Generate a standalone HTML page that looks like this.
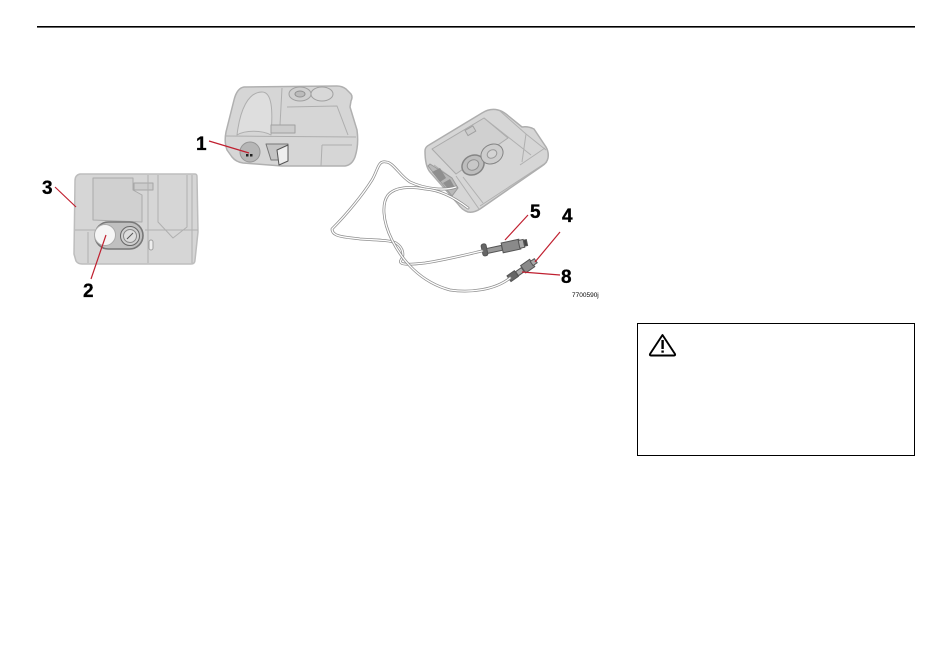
<!DOCTYPE html>
<html>
<head>
<meta charset="utf-8">
<style>
html,body{margin:0;padding:0;background:#fff}
svg{display:block}
text{font-family:"Liberation Sans",sans-serif;font-weight:bold;font-size:19px;fill:#000;stroke:#000;stroke-width:.3px}
</style>
</head>
<body>
<svg width="950" height="666" viewBox="0 0 950 666" xmlns="http://www.w3.org/2000/svg">
<defs><filter id="b" x="-5%" y="-5%" width="110%" height="110%"><feGaussianBlur stdDeviation="0.3"/></filter></defs>
<!-- header rule -->
<rect x="37" y="26" width="878" height="1.6" fill="#000"/>

<g filter="url(#b)">
<!-- compressor top -->
<g stroke-linejoin="round">
<path d="M244 87 L337 86 Q342 86 346 89 L351 94 Q353 97 351 101 L350 107 L357 130 Q359 145 355 157 Q352 165 345 166 L282 166 L243 163 Q236 162 232 157 L227 150 Q224 142 226 132 L234 100 Q237 88 244 87 Z" fill="#d6d6d6" stroke="#b0b0b0" stroke-width="1.5"/>
<path d="M237 135 C240 110 248 92 262 92 C272 92 273 110 271 135 C262 130 245 130 237 135 Z" fill="#dedede" stroke="#aeaeae"/>
<path d="M226 136 L356 137 M282 88 L280 125 M287 107 L337 106 L348 135" fill="none" stroke="#aeaeae"/>
<ellipse cx="300" cy="94" rx="11" ry="7" fill="#cfcfcf" stroke="#a0a0a0"/>
<ellipse cx="300" cy="94" rx="5" ry="3" fill="#bbb" stroke="#909090"/>
<ellipse cx="322" cy="94" rx="11" ry="7" fill="#d8d8d8" stroke="#a0a0a0"/>
<rect x="271" y="125" width="24" height="8" fill="#ccc" stroke="#a0a0a0"/>
<path d="M322 145 L352 145 M322 145 L321 166" fill="none" stroke="#aeaeae"/>
<circle cx="250" cy="152" r="10" fill="#b6b6b6" stroke="#959595"/>
<rect x="246" y="154" width="2.5" height="2.5" fill="#222"/><rect x="250" y="154" width="2.5" height="2.5" fill="#222"/>
<path d="M266 144 L288 144 L287 160 L271 160 Z" fill="#c4c4c4" stroke="#777"/>
<path d="M277 150 L288 145 L288 161 L279 165 Z" fill="#eee" stroke="#555"/>
</g>

<!-- compressor left -->
<g stroke-linejoin="round">
<path d="M80 174 L195 174 Q197 174 197 177 L198 232 L195 260 Q195 264 191 264 L82 264 Q78 264 76 261 L74 254 L75 181 Q75 175 80 174 Z" fill="#d6d6d6" stroke="#bdbdbd" stroke-width="1.5"/>
<path d="M93 178 L133 178 L133 190 L142 195 L142 222 L93 220 Z" fill="#d0d0d0" stroke="#aaa"/>
<rect x="134" y="183" width="19" height="7" fill="#ccc" stroke="#a5a5a5"/>
<path d="M148 175 L148 263 M158 175 L158 222 L173 238 L187 227 L187 175 M75 230 L95 230 M145 230 L198 230 M88 232 L88 263 M192 175 L192 263" fill="none" stroke="#b0b0b0"/>
<rect x="95" y="222" width="48" height="27" rx="13.5" fill="#c0c0c0" stroke="#777" stroke-width="1.6"/>
<circle cx="105" cy="235" r="10.500" fill="#f5f5f5" stroke="#aaa"/>
<circle cx="130" cy="236" r="9.500" fill="#d0d0d0" stroke="#666"/>
<circle cx="130" cy="236" r="6.500" fill="#ddd" stroke="#888"/>
<path d="M127 239 L133 233" stroke="#555"/>
<rect x="149" y="240" width="4" height="10" rx="2" fill="#eee" stroke="#a0a0a0"/>
</g>

<!-- compressor right -->
<g stroke-linejoin="round">
<path d="M425 151 Q425 147 429 145 L482 113 Q490 108 498 110 Q502 111 506 114 L522 127 Q528 126 534 129 L546 147 Q549 152 548 158 Q547 163 542 166 L480 209 Q474 213 468 212 Q462 210 458 204 L430 172 Q425 166 425 151 Z" fill="#d6d6d6" stroke="#aeaeae" stroke-width="1.5"/>
<path d="M432 149 L484 118 L508 138 L456 174 Z" fill="#d0d0d0" stroke="#aaa"/>
<path d="M500 111 L526 134 L522 162 M526 134 L546 150 M484 118 L531 155 M456 176 L479 209 M463 177 L483 203 M480 206 L547 162 M452 178 L434 165 M520 165 L545 148" fill="none" stroke="#b0b0b0"/>
<rect x="466" y="128" width="9" height="6" transform="rotate(-30 470 131)" fill="#ccc" stroke="#a0a0a0"/>
<ellipse cx="473" cy="165" rx="11.500" ry="9.500" transform="rotate(-30 473 165)" fill="#bdbdbd" stroke="#858585" stroke-width="1.5"/>
<ellipse cx="473" cy="165" rx="6" ry="5" transform="rotate(-30 473 165)" fill="#c8c8c8" stroke="#909090"/>
<ellipse cx="492" cy="154" rx="11.500" ry="9.500" transform="rotate(-30 492 154)" fill="#cdcdcd" stroke="#858585"/>
<ellipse cx="492" cy="154" rx="5" ry="4" transform="rotate(-30 492 154)" fill="#d4d4d4" stroke="#999"/>
<path d="M428 166 L452 196 L458 188 L452 178 L430 164 Z" fill="#b8b8b8" stroke="#999"/>
<path d="M432 172 L440 168 L446 178 L440 182 Z M443 183 L450 179 L454 186 L449 190 Z" fill="#8f8f8f"/>
</g>

<!-- connector 5 -->
<g stroke="#555" stroke-width="1">
<rect x="482" y="244" width="5" height="12" rx="2" transform="rotate(-12 484 250)" fill="#666"/>
<rect x="487" y="247" width="15" height="5" transform="rotate(-12 494 249)" fill="#999"/>
<rect x="502" y="241" width="18" height="10" transform="rotate(-12 511 246)" fill="#8a8a8a"/>
<rect x="519" y="240" width="5" height="8" transform="rotate(-12 521 244)" fill="#aaa"/>
<rect x="524" y="240" width="3" height="6" transform="rotate(-12 525 243)" fill="#444"/>
</g>
<!-- connector 4/8 -->
<g stroke="#555" stroke-width="1">
<rect x="508" y="273" width="9" height="7" transform="rotate(-35 512 276)" fill="#666"/>
<rect x="516" y="269" width="7" height="5" transform="rotate(-35 520 271)" fill="#aaa"/>
<rect x="522" y="262" width="11" height="9" transform="rotate(-35 527 266)" fill="#8a8a8a"/>
<rect x="531" y="260" width="5" height="5" transform="rotate(-35 533 262)" fill="#aaa"/>
</g>
</g>

<!-- cables -->
<g fill="none" stroke-linecap="round" stroke-linejoin="round">
<path d="M456 187 C445 191 425 189 410 182 C400 176 393 162 386 162 C378 160 378 170 372 180 C362 196 345 216 332 229 C332 237 345 237 360 239 C375 240 390 240 396 243 C404 248 404 256 401 260 C398 265 408 265 425 263 C445 260 465 255 482 251" stroke="#8e8e8e" stroke-width="2.8"/>
<path d="M456 187 C445 191 425 189 410 182 C400 176 393 162 386 162 C378 160 378 170 372 180 C362 196 345 216 332 229 C332 237 345 237 360 239 C375 240 390 240 396 243 C404 248 404 256 401 260 C398 265 408 265 425 263 C445 260 465 255 482 251" stroke="#fff" stroke-width="1.300"/>
<path d="M468 208 C455 198 440 190 425 189 C410 186 395 187 388 195 C382 203 382 220 392 240 C402 260 420 282 450 290 C470 293 495 290 510 278" stroke="#8e8e8e" stroke-width="2.8"/>
<path d="M468 208 C455 198 440 190 425 189 C410 186 395 187 388 195 C382 203 382 220 392 240 C402 260 420 282 450 290 C470 293 495 290 510 278" stroke="#fff" stroke-width="1.300"/>
</g>

<!-- leaders -->
<g stroke="#c02030" stroke-width="1.200" fill="none">
<path d="M209 141 L249 153"/>
<path d="M55 187 L76 207"/>
<path d="M91 279 L106 235"/>
<path d="M528 215 L505 240"/>
<path d="M560 232 L535 262"/>
<path d="M560 275 L522 272"/>
</g>

<!-- labels -->
<text x="196" y="150">1</text>
<text x="42" y="194">3</text>
<text x="83" y="297">2</text>
<text x="530" y="218">5</text>
<text x="562" y="222">4</text>
<text x="561" y="283">8</text>
<text x="572" y="297" style="font-size:6.5px;font-weight:normal;stroke:none">7700590j</text>

<!-- warning box -->
<rect x="637.5" y="323.5" width="277" height="132" fill="none" stroke="#000" stroke-width="1"/>
<path d="M662.5 335 L675 354 Q675.500 355.500 674 355.500 L651 355.500 Q649.500 355.500 650 354 Z" fill="none" stroke="#000" stroke-width="1.9" stroke-linejoin="round"/>
<rect x="661.400" y="340" width="2.400" height="9" fill="#000"/>
<rect x="661.400" y="350.500" width="2.400" height="2.200" fill="#000"/>
</svg>
</body>
</html>
